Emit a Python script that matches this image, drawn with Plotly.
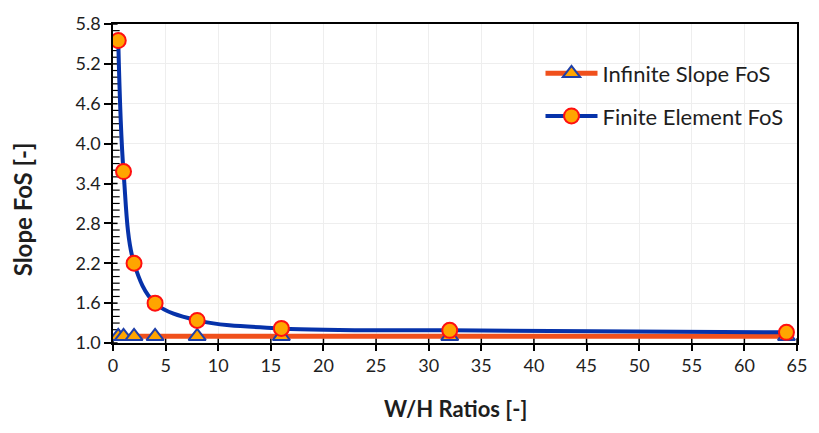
import plotly.graph_objects as go

# W/H ratios and factors of safety for both methods
wh_ratios = [0.5, 1, 2, 4, 8, 16, 32, 64]
infinite_fos = [1.10, 1.10, 1.10, 1.10, 1.10, 1.10, 1.10, 1.10]
finite_element_fos = [5.55, 3.58, 2.20, 1.60, 1.34, 1.22, 1.19, 1.16]

x_title = "W/H Ratios [-]"
y_title = "Slope FoS [-]"

x_range = [0, 65]
y_range = [1.0, 5.8]

# axis tick positions
x_major = list(range(0, 66, 5))
x_minor = [v for v in range(0, 66) if v % 5 != 0]
y_major = [round(1.0 + 0.6 * i, 1) for i in range(9)]
y_minor = [round(1.0 + 0.1 * i, 1) for i in range(49) if i % 6 != 0]

FONT = "Lato"
TXT = "#1E1E1E"

# plot area size in px, used to offset tick marks by pixels
PLOT_W, PLOT_H = 690, 325
px_x = (x_range[1] - x_range[0]) / PLOT_W
px_y = (y_range[1] - y_range[0]) / PLOT_H

fig = go.Figure()


def tick_marks(xs, ys, symbol, size, width):
    fig.add_trace(go.Scatter(
        x=xs, y=ys, mode="markers", cliponaxis=False,
        marker=dict(symbol=symbol, size=size, color="black",
                    line=dict(color="black", width=width)),
        showlegend=False, hoverinfo="skip",
    ))


# minor ticks: below the x axis, inside along the y axis
tick_marks(x_minor, [y_range[0] - 2.6 * px_y] * len(x_minor), "line-ns", 4, 1.2)
tick_marks([x_range[0] + 3.2 * px_x] * len(y_minor), y_minor, "line-ew", 5, 1.2)
# inner half of the crossing major ticks
tick_marks(x_major, [y_range[0] + 2.0 * px_y] * len(x_major), "line-ns", 4, 1.5)
tick_marks([x_range[0] + 1.8 * px_x] * len(y_major), y_major, "line-ew", 4, 1.5)

fig.add_trace(go.Scatter(
    x=wh_ratios, y=infinite_fos, name="Infinite Slope FoS",
    mode="lines+markers", legendgroup="inf",
    line=dict(color="#F0501C", width=5),
    marker=dict(symbol="triangle-up", size=15, color="#FFA500",
                line=dict(color="#1F3FA8", width=2)),
))

fig.add_trace(go.Scatter(
    x=wh_ratios, y=finite_element_fos, name="Finite Element FoS",
    mode="lines+markers", legendgroup="fe",
    line=dict(color="#0632AA", width=4, shape="spline", smoothing=1.0),
    marker=dict(symbol="circle", size=15, color="#FFA500",
                line=dict(color="#FF1010", width=2)),
))

fig.update_layout(
    width=819, height=433,
    margin=dict(l=113, r=16, t=18, b=90),
    paper_bgcolor="white", plot_bgcolor="white",
    font=dict(family=FONT, color=TXT, size=17),
    xaxis=dict(
        range=x_range, tickmode="array", tickvals=x_major,
        ticks="outside", ticklen=6, tickwidth=1.5, tickcolor="black",
        showline=True, linecolor="black", linewidth=1.5, mirror=True,
        showgrid=True, gridcolor="#EEEEEE", gridwidth=1,
        zeroline=False,
        tickfont=dict(size=18, family=FONT, color=TXT),
    ),
    yaxis=dict(
        range=y_range, tickmode="array", tickvals=y_major,
        tickformat=".1f", ticksuffix="\u2002",
        ticks="outside", ticklen=7, tickwidth=1.5, tickcolor="black",
        showline=True, linecolor="black", linewidth=1.5, mirror=True,
        showgrid=True, gridcolor="#EEEEEE", gridwidth=1,
        zeroline=False,
        tickfont=dict(size=18, family=FONT, color=TXT),
    ),
    legend=dict(
        x=0.625, y=0.9105, xanchor="left", yanchor="top",
        bgcolor="rgba(0,0,0,0)", itemwidth=52, tracegroupgap=11,
        font=dict(size=22, family=FONT, color=TXT),
    ),
    showlegend=True,
    annotations=[
        dict(text=f"<b>{x_title}</b>", xref="paper", yref="paper",
             x=0.5, y=-0.206, xanchor="center", yanchor="middle",
             showarrow=False, font=dict(size=22, family=FONT, color=TXT)),
        dict(text=f"<b>{y_title}</b>", xref="paper", yref="paper",
             x=-0.132, y=0.418, xanchor="center", yanchor="middle",
             textangle=-90, showarrow=False,
             font=dict(size=24, family=FONT, color=TXT)),
    ],
)

fig.write_html("out.html")
